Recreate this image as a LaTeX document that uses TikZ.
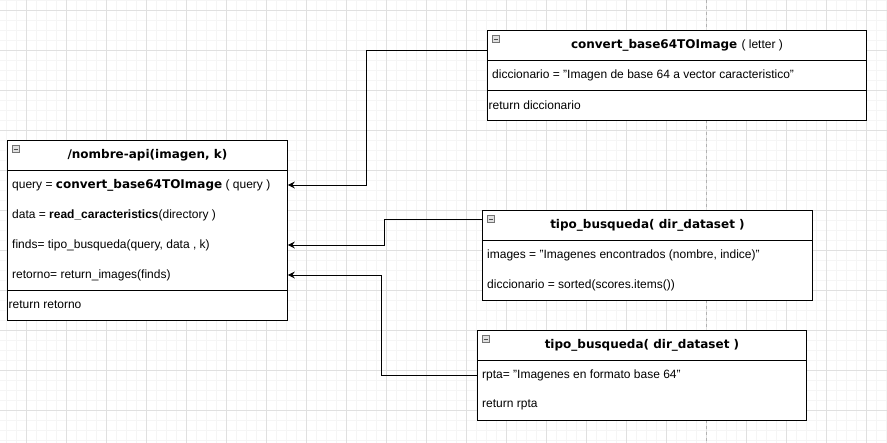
\documentclass[tikz,border=0pt]{standalone}
\usepackage{fontspec}
\setmainfont{Liberation Sans}
\newfontfamily\headfont{DejaVu Sans}
\usetikzlibrary{arrows.meta,calc,positioning}

\begin{document}
\begin{tikzpicture}[
  x=1pt,y=-1pt,
  >={Stealth[length=7pt,width=7pt,inset=2.5pt]},
  font=\fontsize{12}{14}\selectfont,
  umlbox/.style={draw,fill=white,line width=0.9pt,anchor=north west,inner sep=0pt},
  title/.style={font=\headfont\fontsize{12}{14}\selectfont\bfseries},
  row/.style={anchor=west,inner sep=0pt},
  link/.style={->,line width=0.9pt},
  toggle/.style={draw=black!55,fill=black!12,line width=0.5pt,minimum size=7pt,inner sep=0pt,anchor=north west}
]
  \useasboundingbox (0,0) rectangle (887,443);
  \fill[white] (0,0) rectangle (887,443);
  % background grid
  \foreach \gx in {6.5,16.5,...,886.5} \draw[black!4,line width=0.6pt] (\gx,0) -- (\gx,443);
  \foreach \gy in {0.5,10.5,...,442.5} \draw[black!4,line width=0.6pt] (0,\gy) -- (887,\gy);
  \foreach \gx in {26.5,66.5,...,886.5} \draw[black!12,line width=0.6pt] (\gx,0) -- (\gx,443);
  \foreach \gy in {10.5,50.5,...,442.5} \draw[black!12,line width=0.6pt] (0,\gy) -- (887,\gy);
  \draw[black!30,dashed,line width=0.6pt] (706.5,0) -- (706.5,443);

  % main function
  \node[umlbox,minimum width=280pt,minimum height=180pt] (api) at (7,140) {};
  \draw[line width=0.9pt] ($(api.north west)+(0,30)$) -- ($(api.north east)+(0,30)$);
  \draw[line width=0.9pt] ($(api.south west)+(0,-30)$) -- ($(api.south east)+(0,-30)$);
  \node[toggle] (api-tog) at ($(api.north west)+(5,5)$) {};
  \draw[black!70] ($(api-tog.west)+(1.5,0)$) -- ($(api-tog.east)+(-1.5,0)$);
  \node[title] (api-title) at ($(api.north)+(0,15)$) {/nombre-api(imagen, k)};
  \node[row] (api-query) at ($(api.north west)+(5,45)$)
    {query = {\headfont\bfseries convert\_base64TOImage} ( query )};
  \node[row] (api-data) at ($(api.north west)+(5,75)$)
    {data = {\bfseries read\_caracteristics}(directory )};
  \node[row] (api-finds) at ($(api.north west)+(5,105)$)
    {finds= tipo\_busqueda(query, data , k)};
  \node[row] (api-ret) at ($(api.north west)+(5,135)$)
    {retorno= return\_images(finds)};
  \node[row] (api-return) at ($(api.north west)+(1.5,165)$) {return retorno};

  % convert_base64TOImage
  \node[umlbox,minimum width=379pt,minimum height=90pt] (conv) at (487,30) {};
  \draw[line width=0.9pt] ($(conv.north west)+(0,30)$) -- ($(conv.north east)+(0,30)$);
  \draw[line width=0.9pt] ($(conv.south west)+(0,-30)$) -- ($(conv.south east)+(0,-30)$);
  \node[toggle] (conv-tog) at ($(conv.north west)+(5,5)$) {};
  \draw[black!70] ($(conv-tog.west)+(1.5,0)$) -- ($(conv-tog.east)+(-1.5,0)$);
  \node[title] (conv-title) at ($(conv.north)+(0,15)$)
    {convert\_base64TOImage {\normalfont\fontsize{12}{14}\selectfont ( letter )}};
  \node[row] (conv-dict) at ($(conv.north west)+(5,45)$)
    {diccionario = "Imagen de base 64 a vector caracteristico"};
  \node[row] (conv-return) at ($(conv.north west)+(1.5,75)$) {return diccionario};
  \coordinate (conv-out) at ($(conv.north west)+(0,20)$);

  % tipo_busqueda (scores)
  \node[umlbox,minimum width=330pt,minimum height=90pt] (busq) at (482,210) {};
  \draw[line width=0.9pt] ($(busq.north west)+(0,30)$) -- ($(busq.north east)+(0,30)$);
  \node[toggle] (busq-tog) at ($(busq.north west)+(5,5)$) {};
  \draw[black!70] ($(busq-tog.west)+(1.5,0)$) -- ($(busq-tog.east)+(-1.5,0)$);
  \node[title] (busq-title) at ($(busq.north)+(0,15)$) {tipo\_busqueda( dir\_dataset )};
  \node[row] (busq-images) at ($(busq.north west)+(5,45)$)
    {images = "Imagenes encontrados (nombre, indice)"};
  \node[row] (busq-dict) at ($(busq.north west)+(5,75)$)
    {diccionario = sorted(scores.items())};
  \coordinate (busq-out) at ($(busq.north west)+(0,9)$);

  % tipo_busqueda (base 64)
  \node[umlbox,minimum width=329pt,minimum height=90pt] (rpta) at (477,330) {};
  \draw[line width=0.9pt] ($(rpta.north west)+(0,30)$) -- ($(rpta.north east)+(0,30)$);
  \node[toggle] (rpta-tog) at ($(rpta.north west)+(5,5)$) {};
  \draw[black!70] ($(rpta-tog.west)+(1.5,0)$) -- ($(rpta-tog.east)+(-1.5,0)$);
  \node[title] (rpta-title) at ($(rpta.north)+(0,15)$) {tipo\_busqueda( dir\_dataset )};
  \node[row] (rpta-val) at ($(rpta.north west)+(5,45)$)
    {rpta= "Imagenes en formato base 64"};
  \node[row] (rpta-return) at ($(rpta.north west)+(5,75)$) {return rpta};
  \coordinate (rpta-out) at (rpta-val -| rpta.west);

  % calls
  \draw[link] (conv-out) -- ++(-120.5,0) |- (api-query -| api.east);
  \draw[link] (busq-out) -- ++(-98,0) |- (api-finds -| api.east);
  \draw[link] (rpta-out) -- ++(-96,0) |- (api-ret -| api.east);
\end{tikzpicture}
\end{document}
